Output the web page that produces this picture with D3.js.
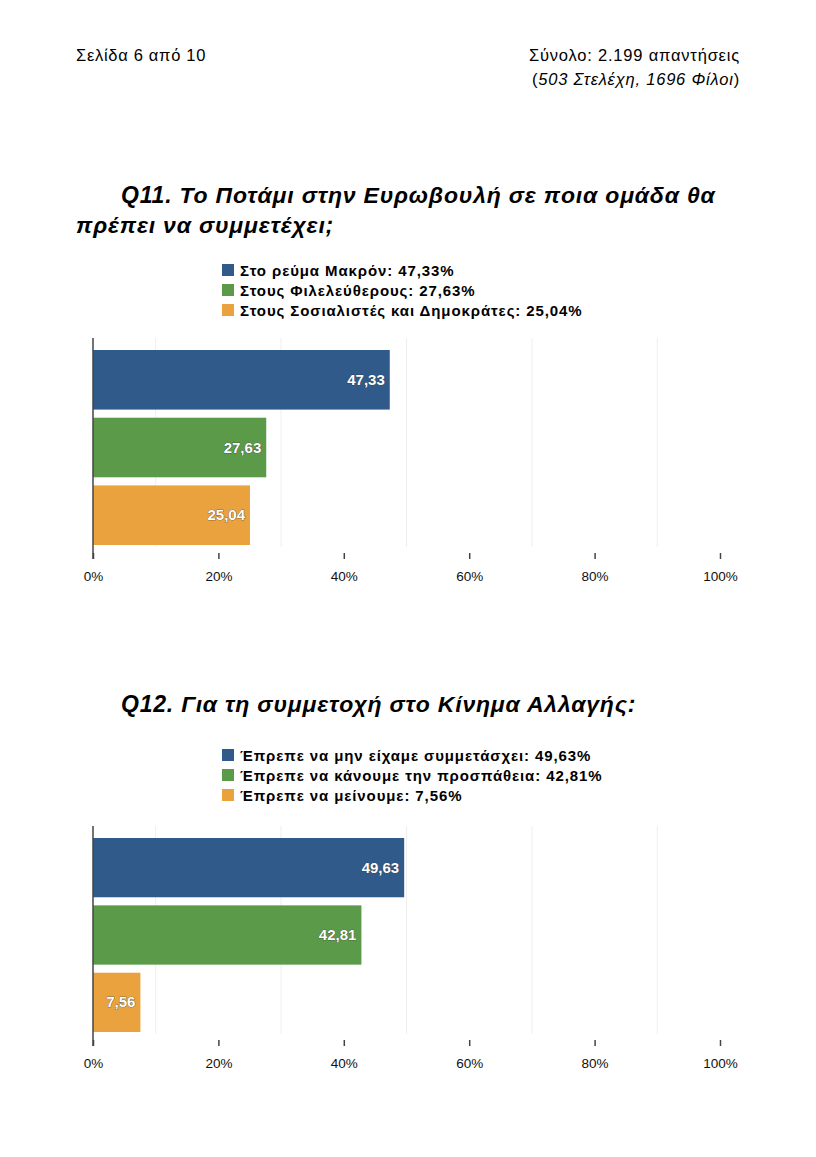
<!DOCTYPE html><html><head><meta charset="utf-8"><script src="https://cdn.jsdelivr.net/npm/d3@7"></script>
<style>body{margin:0;background:#fff}text{font-family:"Liberation Sans",Arial,sans-serif}</style></head><body>
<svg id="c" width="816" height="1157"></svg>
<script>
const colors=["#2f5a8a","#5b9a49","#e9a23e"];
const q11Labels=["Στο ρεύμα Μακρόν","Στους Φιλελεύθερους","Στους Σοσιαλιστές και Δημοκράτες"];
const q11Values=[47.33,27.63,25.04];
const q12Labels=["Έπρεπε να μην είχαμε συμμετάσχει","Έπρεπε να κάνουμε την προσπάθεια","Έπρεπε να μείνουμε"];
const q12Values=[49.63,42.81,7.56];
const tickValues=[0,20,40,60,80,100];
const gridValues=[10,30,50,70,90];
const fmt=v=>v.toFixed(2).replace(".",",");
const svg=d3.select("#c");
svg.append("text").attr("x",76).attr("y",61).attr("font-size",16.5).attr("letter-spacing",0.7).text("Σελίδα 6 από 10");
svg.append("text").attr("x",740).attr("y",61).attr("font-size",16.5).attr("letter-spacing",0.8).attr("text-anchor","end").text("Σύνολο: 2.199 απαντήσεις");
const t2=svg.append("text").attr("x",740).attr("y",85).attr("font-size",16.5).attr("letter-spacing",0.8).attr("text-anchor","end");
t2.append("tspan").text("(");t2.append("tspan").attr("font-style","italic").text("503 Στελέχη, 1696 Φίλοι");t2.append("tspan").text(")");
function title(lines){lines.forEach(l=>{const t=svg.append("text").attr("x",l.x).attr("y",l.y).attr("font-size",23).attr("letter-spacing",0.8).attr("font-weight","bold").attr("font-style","italic");
 if(l.q){t.append("tspan").text(l.q+" ");}t.append("tspan").text(l.t);});}
title([{x:121,y:203,q:"Q11.",t:"Το Ποτάμι στην Ευρωβουλή σε ποια ομάδα θα"},{x:76,y:233,t:"πρέπει να συμμετέχει;"}]);
title([{x:121,y:712,q:"Q12.",t:"Για τη συμμετοχή στο Κίνημα Αλλαγής:"}]);
function chart(labels,values,legY,top,bottom){
 const x=d3.scaleLinear().domain([0,100]).range([93,720]);
 const y=d3.scaleBand().domain(labels).range([top+12,bottom-2]).paddingInner(0.12).paddingOuter(0);
 labels.forEach((l,i)=>{svg.append("rect").attr("x",222).attr("y",legY+i*20-12).attr("width",12).attr("height",12).attr("fill",colors[i]);
  svg.append("text").attr("x",240).attr("y",legY+i*20).attr("font-size",15).attr("letter-spacing",0.9).attr("font-weight","bold").text(l+": "+fmt(values[i])+"%");});
 svg.selectAll(null).data(gridValues).enter().append("line").attr("x1",d=>x(d)).attr("x2",d=>x(d)).attr("y1",top).attr("y2",bottom).attr("stroke","#eee");
 svg.selectAll(null).data(labels).enter().append("rect").attr("x",x(0)).attr("y",d=>y(d)).attr("width",(d,i)=>x(values[i])-x(0)).attr("height",y.bandwidth()).attr("fill",(d,i)=>colors[i]);
 svg.selectAll(null).data(labels).enter().append("text").attr("x",(d,i)=>x(values[i])-5).attr("y",d=>y(d)+y.bandwidth()/2+5).attr("text-anchor","end").attr("font-size",15).attr("font-weight","bold").attr("fill","#fff").attr("stroke","#333").attr("stroke-width",0.6).attr("paint-order","stroke").text((d,i)=>fmt(values[i]));
 svg.append("line").attr("x1",x(0)).attr("x2",x(0)).attr("y1",top).attr("y2",bottom+12).attr("stroke","#444").attr("stroke-width",1.5);
 const g=svg.append("g").attr("transform",`translate(0,${bottom+6})`);
 g.call(d3.axisBottom(x).tickValues(tickValues).tickSize(6).tickFormat(d=>d+"%"));
 g.select(".domain").remove();g.selectAll("line").attr("stroke","#444").attr("stroke-width",1.5).attr("y1",0);
 g.selectAll("text").attr("font-size",13.5).attr("fill","#111").attr("dy","1.4em").style("font-family","Liberation Sans, Arial");
}
chart(q11Labels,q11Values,276,338,547);
chart(q12Labels,q12Values,761,826,1034);
</script></body></html>
